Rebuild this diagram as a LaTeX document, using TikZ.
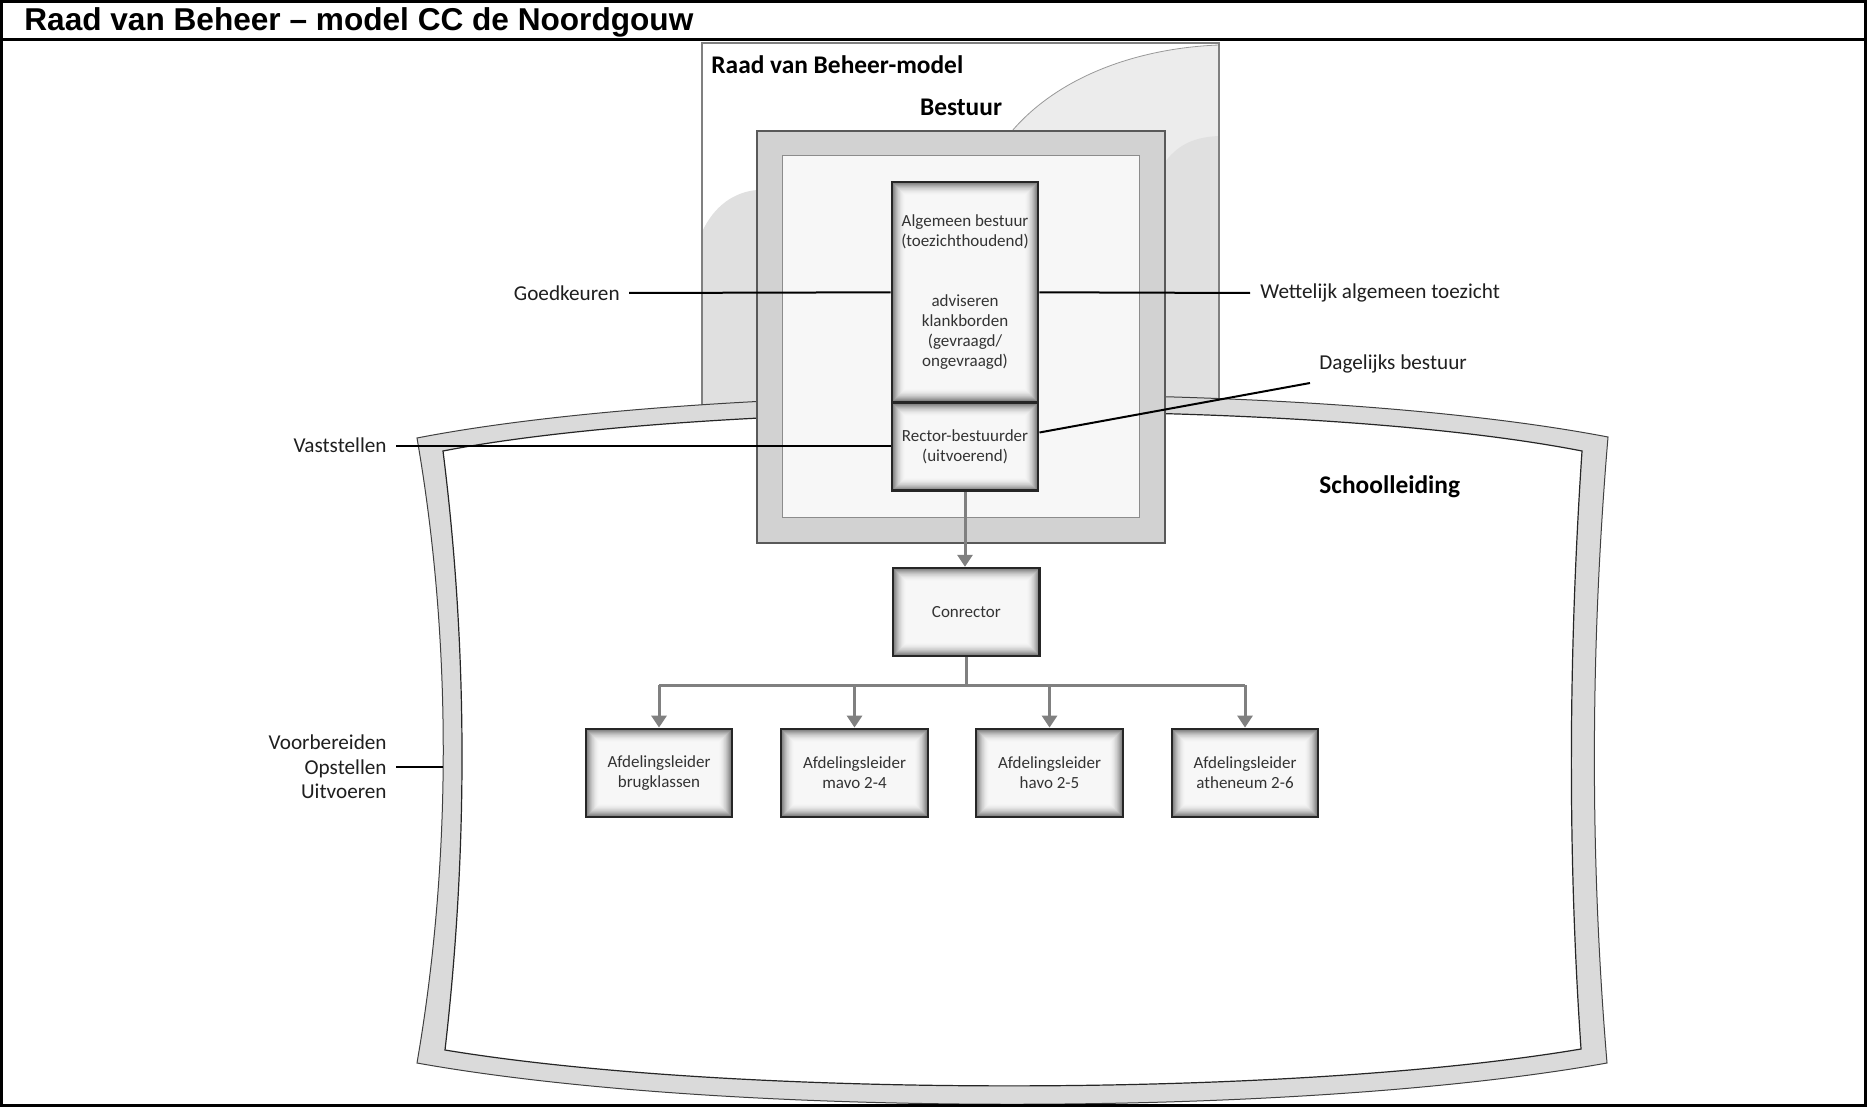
\documentclass[tikz,border=0pt]{standalone}
\usepackage{fontspec}
\setmainfont{Carlito}
\newfontfamily\hdrfont{Liberation Sans}
\usetikzlibrary{arrows.meta}
\definecolor{bandgray}{HTML}{DADADA}
\definecolor{bestouter}{HTML}{D2D2D2}
\definecolor{bestinner}{HTML}{F7F7F7}
\definecolor{lightA}{HTML}{ECECEC}
\definecolor{lightB}{HTML}{E0E0E0}
\tikzset{
  glowbox/.style={draw=black!85, line width=1.2pt, minimum width=73.25pt,
    minimum height=44pt, inner sep=0pt, align=center, text=black!80,
    font=\fontsize{8.5}{10}\selectfont,
    path picture={
      \foreach \k in {0,...,14}{
        \pgfmathtruncatemacro\lev{3+52*(1-\k/14)^2}
        \fill[black!\lev] ([shift={(\k*0.5pt,\k*0.5pt)}]path picture bounding box.south west)
          rectangle ([shift={(-\k*0.5pt,-\k*0.5pt)}]path picture bounding box.north east);
      }
    }},
  lbl/.style={inner sep=0pt, text=black!88, font=\fontsize{10.6}{12.25}\selectfont},
  ttl/.style={inner sep=0pt, text=black, font=\bfseries\fontsize{12.7}{15}\selectfont},
  lblline/.style={draw=black, line width=1pt},
  conn/.style={draw=black!50, line width=1.5pt},
  arr/.style={conn, -{Triangle[length=6pt,width=7.5pt]}}
}
\begin{document}
\begin{tikzpicture}[x=0.5pt,y=-0.5pt]
\useasboundingbox (0,0) rectangle (1867,1107);
\fill[white] (0,0) rectangle (1867,1107);

% header
\node[anchor=base west, inner sep=0pt, font=\hdrfont\bfseries\fontsize{15.8}{18}\selectfont] (hdr) at (24,31) {Raad van Beheer – model CC de Noordgouw};

% Raad van Beheer panel
\begin{scope}
\clip (702,43) rectangle (1219,415);
\fill[white] (702,43) rectangle (1219,415);
\fill[lightA] (1012,131) .. controls (1060,75) and (1140,48) .. (1219,45) -- (1219,415) -- (1012,415) -- cycle;
\draw[black!40, line width=0.4pt] (1012,131) .. controls (1060,75) and (1140,48) .. (1219,45);
\fill[lightB] (1165,162) .. controls (1180,142) and (1198,137) .. (1219,136) -- (1219,415) -- (1165,415) -- cycle;
\fill[lightB] (702,232) .. controls (714,206) and (734,192) .. (757,190) -- (757,415) -- (702,415) -- cycle;
\end{scope}
\draw[black!50, line width=0.7pt] (702,415) -- (702,43) -- (1219,43) -- (1219,415);
\node[ttl, anchor=west] (rvb) at (711,65) {Raad van Beheer-model};

% Schoolleiding frame
\fill[bandgray] (417,438) .. controls (700,383) and (1300,378) .. (1608,437)
  .. controls (1590,650) and (1590,860) .. (1607,1063)
  .. controls (1300,1118) and (724,1118) .. (417,1063)
  .. controls (452,860) and (452,640) .. (417,438) -- cycle;
\draw[black!75, line width=0.5pt] (417,438) .. controls (700,383) and (1300,378) .. (1608,437)
  .. controls (1590,650) and (1590,860) .. (1607,1063)
  .. controls (1300,1118) and (724,1118) .. (417,1063)
  .. controls (452,860) and (452,640) .. (417,438) -- cycle;
\filldraw[fill=white, draw=black!85, line width=0.6pt] (443,451) .. controls (700,401) and (1300,396) .. (1582,451)
  .. controls (1568,660) and (1568,860) .. (1581,1049)
  .. controls (1290,1098) and (735,1098) .. (445,1050)
  .. controls (468,850) and (468,650) .. (443,451) -- cycle;
\node[ttl, anchor=west] (school) at (1319,487) {Schoolleiding};
\coordinate (framew) at (443,767);

% Bestuur box
\node[ttl] (bestuur) at (961,107) {Bestuur};
\filldraw[fill=bestouter, draw=black!65, line width=0.6pt] (757,131) rectangle (1165,543);
\filldraw[fill=bestinner, draw=black!45, line width=0.5pt] (782,156) rectangle (1139,517);

% boxes
\node[glowbox, minimum height=110pt] (alg) at (965,292.3) {Algemeen bestuur\\(toezichthoudend)\\[20pt]adviseren\\klankborden\\(gevraagd/\\ongevraagd)};
\node[glowbox] (rector) at (965,446.5) {Rector-bestuurder\\(uitvoerend)};
\node[glowbox] (conr) at (966.3,612) {Conrector};
\node[glowbox] (afd1) at (659,772.8) {Afdelingsleider\\brugklassen};
\node[glowbox] (afd2) at (854.5,772.8) {Afdelingsleider\\mavo 2-4};
\node[glowbox] (afd3) at (1049.5,772.8) {Afdelingsleider\\havo 2-5};
\node[glowbox] (afd4) at (1245,772.8) {Afdelingsleider\\atheneum 2-6};

% grey connectors
\coordinate (bus) at (966.3,685);
\draw[arr] (rector.south) -- (rector.south |- conr.north);
\draw[conn] (conr.south) -- (bus);
\draw[conn] (afd1.north |- bus) -- (afd4.north |- bus);
\draw[arr] (afd1.north |- bus) -- (afd1.north);
\draw[arr] (afd2.north |- bus) -- (afd2.north);
\draw[arr] (afd3.north |- bus) -- (afd3.north);
\draw[arr] (afd4.north |- bus) -- (afd4.north);

% labels
\node[lbl, anchor=east, inner xsep=4.5pt] (goed) at (629,293) {Goedkeuren};
\node[lbl, anchor=west, inner xsep=5pt] (wet) at (1250,293) {Wettelijk algemeen toezicht};
\node[lbl, anchor=east, inner xsep=4.5pt] (vast) at (396,445.5) {Vaststellen};
\node[lbl, anchor=west] (dag) at (1319,364) {Dagelijks bestuur};
\coordinate (dagend) at (1310,383);
\node[lbl, anchor=east, align=right, inner xsep=4.5pt] (voor) at (396,767) {Voorbereiden\\Opstellen\\Uitvoeren};

\draw[lblline] (goed.east) -- (alg.west);
\draw[lblline] (alg.east) -- (wet.west);
\draw[lblline] (vast.east) -- (vast.east -| rector.west);
\draw[lblline] ([yshift=7pt]rector.east) -- (dagend);
\draw[lblline] (voor.east) -- (framew);

% outer frame
\draw[line width=1.5pt] (1.5,1.5) rectangle (1865.5,1105.5);
\draw[line width=1.5pt] (0,40) -- (1867,40);
\end{tikzpicture}
\end{document}
